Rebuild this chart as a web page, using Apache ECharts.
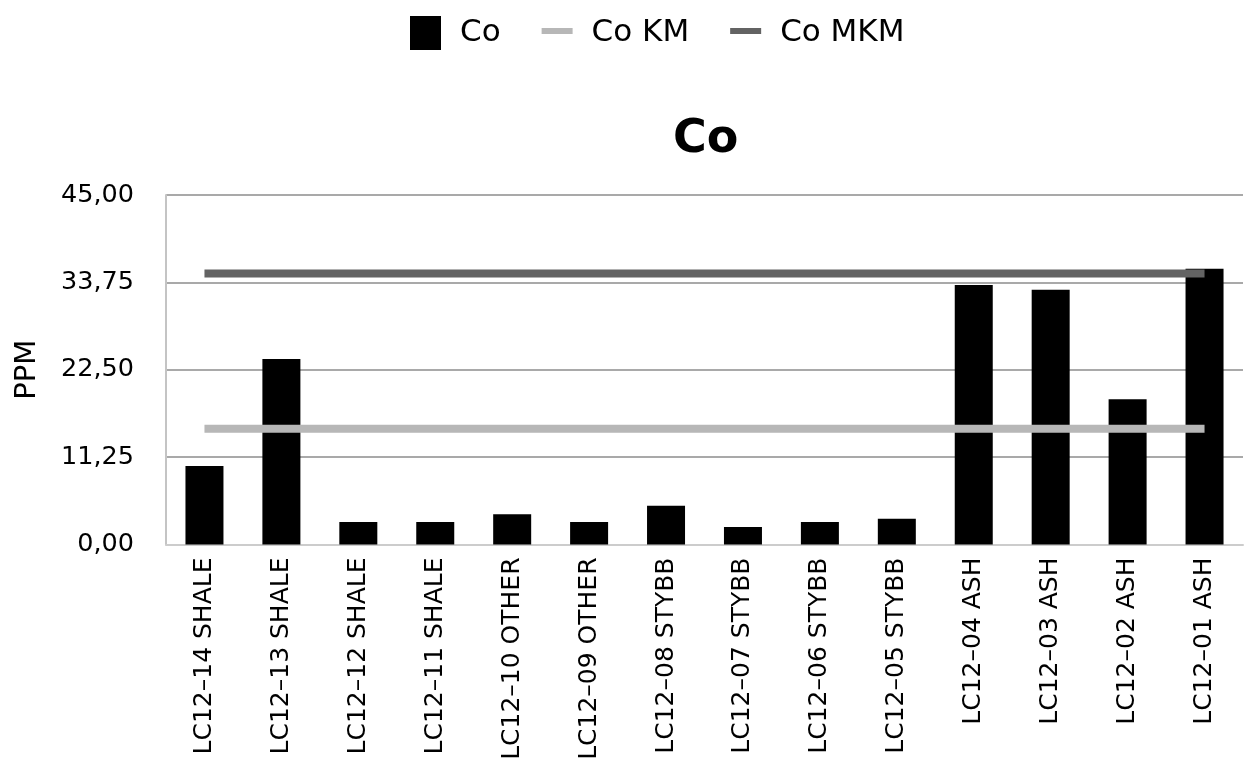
<!DOCTYPE html>
<html>
<head>
<meta charset="utf-8">
<script src="https://cdn.jsdelivr.net/npm/echarts@6/dist/echarts.min.js"></script>
<style>
html,body{margin:0;padding:0;background:#fff;}
#c{width:1244px;height:764px;}
</style>
</head>
<body>
<div id="c"></div>
<script>
const categories = ['LC12\u201314 SHALE','LC12\u201313 SHALE','LC12\u201312 SHALE','LC12\u201311 SHALE','LC12\u201310 OTHER','LC12\u201309 OTHER','LC12\u201308 STYBB','LC12\u201307 STYBB','LC12\u201306 STYBB','LC12\u201305 STYBB','LC12\u201304 ASH','LC12\u201303 ASH','LC12\u201302 ASH','LC12\u201301 ASH'];
const coValues = [10.1, 23.9, 2.9, 2.9, 3.9, 2.9, 5.0, 2.25, 2.9, 3.3, 33.4, 32.8, 18.7, 35.5];
const coKM = [14.9, 14.9, 14.9, 14.9, 14.9, 14.9, 14.9, 14.9, 14.9, 14.9, 14.9, 14.9, 14.9, 14.9];
const coMKM = [34.9, 34.9, 34.9, 34.9, 34.9, 34.9, 34.9, 34.9, 34.9, 34.9, 34.9, 34.9, 34.9, 34.9];
const yTicks = [0, 11.25, 22.5, 33.75, 45];

const FONT = '"DejaVu Sans"';
const LINE_ICON = 'path://M0,0h0.01v0.01h-0.01zM0,12h31v6h-31zM30.99,33.99h0.01v0.01h-0.01z';
const chart = echarts.init(document.getElementById('c'), null, {renderer: 'canvas'});
chart.setOption({
  animation: false,
  backgroundColor: '#ffffff',
  title: {
    text: 'Co',
    left: 668,
    top: 112,
    textStyle: {fontFamily: FONT, fontSize: 46, fontWeight: 'bold', color: '#000'}
  },
  legend: {
    left: 405,
    top: 11,
    itemWidth: 31,
    itemHeight: 34,
    itemGap: 41,
    textStyle: {fontFamily: FONT, fontSize: 31, color: '#000', padding: [0, 0, 0, 14]},
    data: [
      {name: 'Co', icon: 'rect'},
      {name: 'Co KM', icon: LINE_ICON},
      {name: 'Co MKM', icon: LINE_ICON}
    ]
  },
  grid: {left: 166, right: 1, top: 195, bottom: 219.5, containLabel: false},
  xAxis: {
    type: 'category',
    data: categories,
    axisLine: {show: true, lineStyle: {color: '#cccccc', width: 2}},
    axisTick: {show: false},
    axisLabel: {rotate: 90, margin: 13, fontFamily: FONT, fontSize: 25, color: '#000', interval: 0}
  },
  yAxis: {
    type: 'value',
    min: yTicks[0],
    max: yTicks[yTicks.length - 1],
    interval: yTicks[1] - yTicks[0],
    name: 'PPM',
    nameLocation: 'middle',
    nameRotate: 90,
    nameGap: 124,
    nameTextStyle: {fontFamily: FONT, fontSize: 29, color: '#000'},
    axisLine: {show: true, lineStyle: {color: '#c4c4c4', width: 2}},
    axisTick: {show: false},
    splitLine: {show: true, lineStyle: {color: '#a9a9a9', width: 2}},
    axisLabel: {
      margin: 32,
      padding: [3, 0, 0, 0],
      fontFamily: FONT, fontSize: 25.5, color: '#000',
      formatter: v => v.toFixed(2).replace('.', ',')
    }
  },
  series: [
    {
      name: 'Co', type: 'bar', data: coValues, barWidth: 38,
      itemStyle: {color: '#000000'}
    },
    {
      name: 'Co KM', type: 'line', data: coKM, symbol: 'none',
      lineStyle: {color: '#b7b7b7', width: 8, cap: 'butt'},
      itemStyle: {color: '#b7b7b7'}
    },
    {
      name: 'Co MKM', type: 'line', data: coMKM, symbol: 'none',
      lineStyle: {color: '#636363', width: 8, cap: 'butt'},
      itemStyle: {color: '#636363'}
    }
  ]
});
</script>
</body>
</html>
